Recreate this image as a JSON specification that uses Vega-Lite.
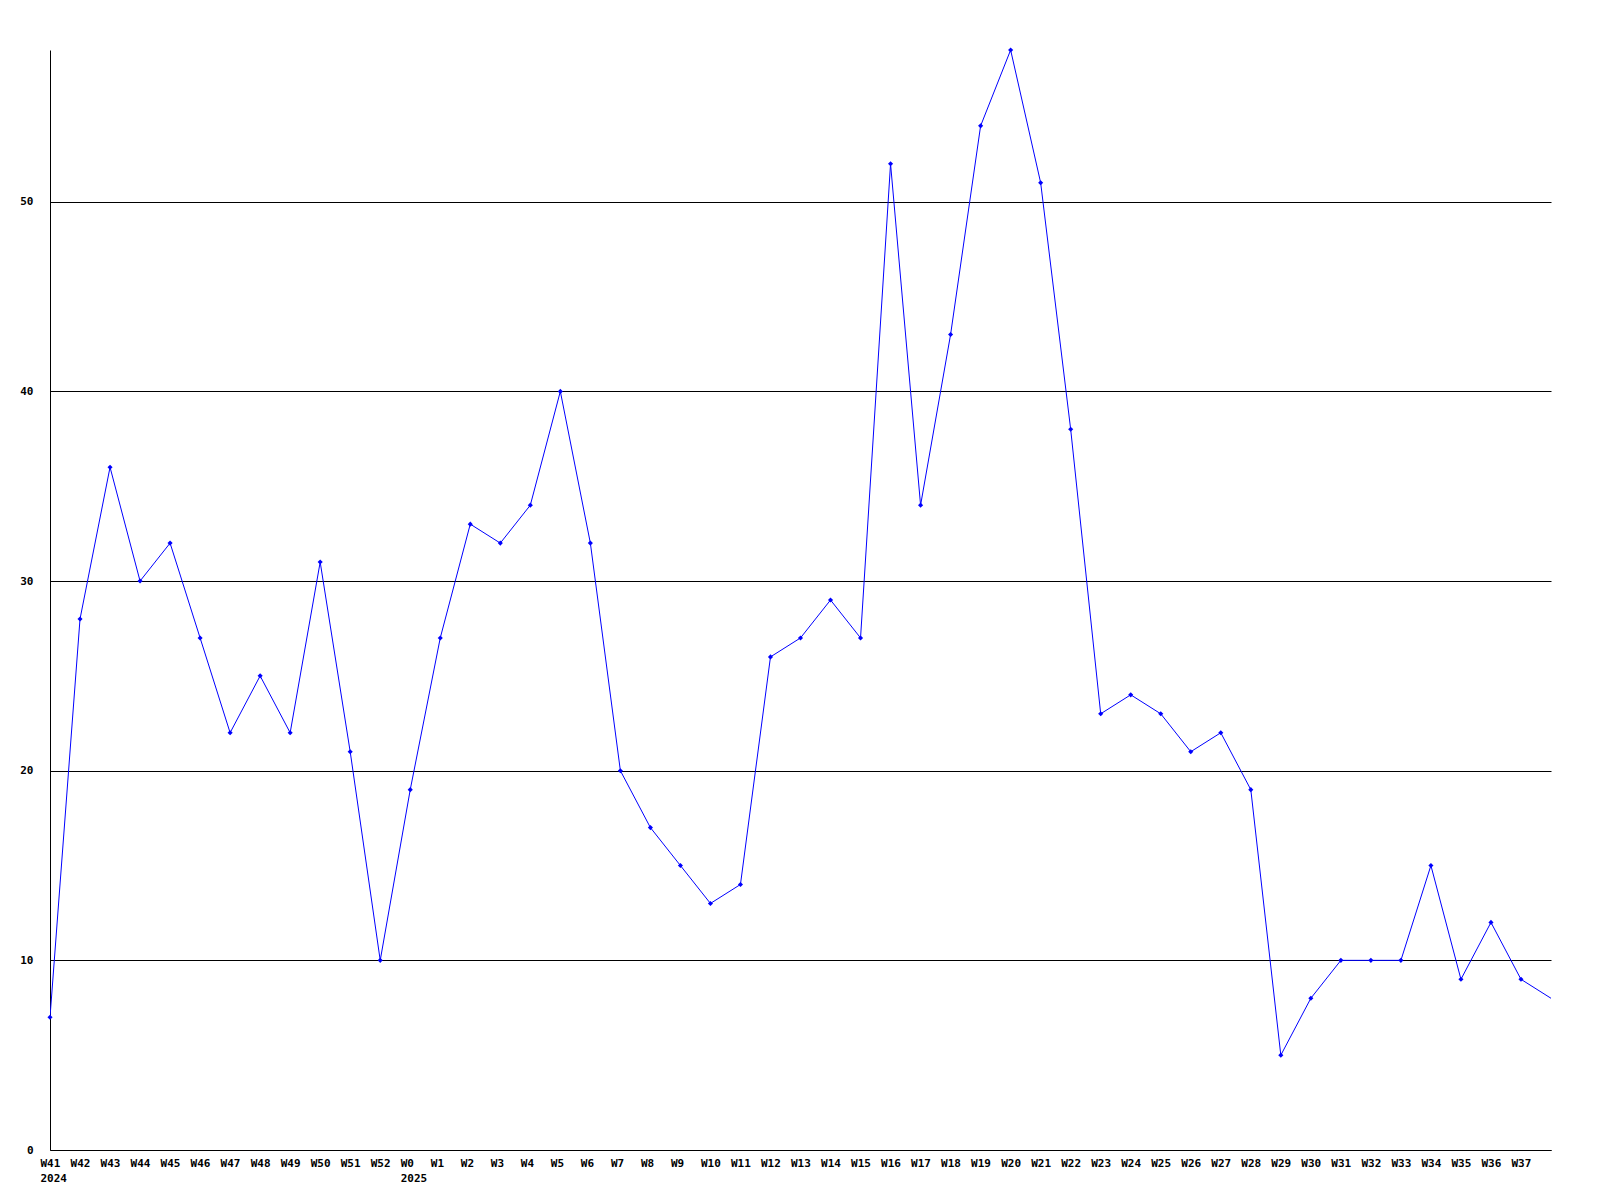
{
  "$schema": "https://vega.github.io/schema/vega-lite/v6.json",
  "width": 1501,
  "height": 1100,
  "autosize": "none",
  "padding": {"left": 50, "top": 50, "right": 49, "bottom": 50},
  "background": "white",
  "config": {"view": {"stroke": null}},
  "data": {"values": [
    {"week": "W41", "value": 7}, {"week": "W42", "value": 28}, {"week": "W43", "value": 36},
    {"week": "W44", "value": 30}, {"week": "W45", "value": 32}, {"week": "W46", "value": 27},
    {"week": "W47", "value": 22}, {"week": "W48", "value": 25}, {"week": "W49", "value": 22},
    {"week": "W50", "value": 31}, {"week": "W51", "value": 21}, {"week": "W52", "value": 10},
    {"week": "W0", "value": 19}, {"week": "W1", "value": 27}, {"week": "W2", "value": 33},
    {"week": "W3", "value": 32}, {"week": "W4", "value": 34}, {"week": "W5", "value": 40},
    {"week": "W6", "value": 32}, {"week": "W7", "value": 20}, {"week": "W8", "value": 17},
    {"week": "W9", "value": 15}, {"week": "W10", "value": 13}, {"week": "W11", "value": 14},
    {"week": "W12", "value": 26}, {"week": "W13", "value": 27}, {"week": "W14", "value": 29},
    {"week": "W15", "value": 27}, {"week": "W16", "value": 52}, {"week": "W17", "value": 34},
    {"week": "W18", "value": 43}, {"week": "W19", "value": 54}, {"week": "W20", "value": 58},
    {"week": "W21", "value": 51}, {"week": "W22", "value": 38}, {"week": "W23", "value": 23},
    {"week": "W24", "value": 24}, {"week": "W25", "value": 23}, {"week": "W26", "value": 21},
    {"week": "W27", "value": 22}, {"week": "W28", "value": 19}, {"week": "W29", "value": 5},
    {"week": "W30", "value": 8}, {"week": "W31", "value": 10}, {"week": "W32", "value": 10},
    {"week": "W33", "value": 10}, {"week": "W34", "value": 15}, {"week": "W35", "value": 9},
    {"week": "W36", "value": 12}, {"week": "W37", "value": 9}, {"week": "W38", "value": 8}
  ]},
  "encoding": {
    "x": {
      "field": "week", "type": "ordinal", "sort": null,
      "scale": {"type": "point", "padding": 0},
      "axis": {
        "title": null, "ticks": false, "grid": false,
        "domainColor": "black", "domainWidth": 1,
        "labelAngle": 0, "labelAlign": "left", "labelOffset": -10, "labelBaseline": "top",
        "labelPadding": 7, "labelFont": "DejaVu Sans Mono", "labelFontWeight": "bold",
        "labelFontSize": 11, "labelColor": "black", "labelLineHeight": 15,
        "labelOverlap": false,
        "labelExpr": "datum.value == 'W41' ? ['W41', '2024'] : datum.value == 'W0' ? ['W0', '2025'] : datum.value == 'W38' ? '' : datum.value"
      }
    },
    "y": {
      "field": "value", "type": "quantitative",
      "scale": {"domain": [0, 58], "nice": false, "zero": true},
      "axis": {
        "title": null, "ticks": false, "values": [0, 10, 20, 30, 40, 50],
        "grid": true, "gridColor": "black", "gridOpacity": 1, "gridWidth": 1,
        "domainColor": "black", "domainWidth": 1,
        "labelPadding": 17, "labelFont": "DejaVu Sans Mono", "labelFontWeight": "bold",
        "labelFontSize": 11, "labelColor": "black"
      }
    }
  },
  "layer": [
    {"mark": {"type": "line", "color": "#0000ff", "strokeWidth": 1, "clip": true}},
    {
      "transform": [{"filter": "datum.week != 'W38'"}],
      "mark": {"type": "point", "shape": "diamond", "filled": true, "color": "#0000ff", "size": 26, "opacity": 1}
    }
  ]
}
